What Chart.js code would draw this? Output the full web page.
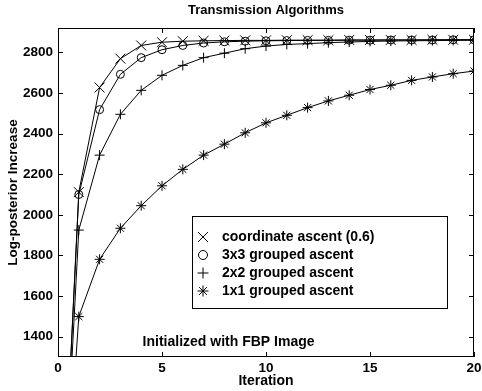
<!DOCTYPE html>
<html>
<head>
<meta charset="utf-8">
<script src="https://cdn.jsdelivr.net/npm/chart.js@4.4.1/dist/chart.umd.min.js"></script>
<style>
  html, body { margin: 0; padding: 0; background: #fff; }
  #wrap { width: 482px; height: 391px; }
</style>
</head>
<body>
<div id="wrap"><canvas id="chartCanvas"></canvas></div>
<script>
// Iteration numbers (x axis)
var iterations = [0, 1, 2, 3, 4, 5, 6, 7, 8, 9, 10, 11, 12, 13, 14, 15, 16, 17, 18, 19, 20];

// Log-posterior increase per algorithm
var coordAscent = [0, 2112, 2627, 2769, 2834, 2850, 2855, 2857, 2858, 2859, 2859, 2860, 2860, 2860, 2861, 2861, 2861, 2861, 2862, 2862, 2862];
var grouped3x3  = [0, 2100, 2518, 2692, 2774, 2813, 2834, 2846, 2852, 2855, 2857, 2858, 2859, 2859, 2860, 2860, 2861, 2861, 2861, 2862, 2862];
var grouped2x2  = [0, 1925, 2294, 2495, 2613, 2687, 2736, 2774, 2796, 2818, 2831, 2839, 2843, 2848, 2851, 2854, 2856, 2857, 2858, 2859, 2860];
var grouped1x1  = [0, 1499, 1781, 1934, 2045, 2143, 2224, 2294, 2348, 2404, 2453, 2490, 2528, 2561, 2589, 2617, 2638, 2662, 2679, 2695, 2708];

var seriesLabels = ['coordinate ascent (0.6)', '3x3 grouped ascent', '2x2 grouped ascent', '1x1 grouped ascent'];
var seriesStyles = ['crossRot', 'circle', 'cross', 'star'];
var seriesRadius = [7, 4, 5, 5];

// Tick labels
var xTicks = [0, 5, 10, 15, 20];
var yTicks = [1400, 1600, 1800, 2000, 2200, 2400, 2600, 2800];

var FONT = "'Liberation Sans', Arial, Helvetica, sans-serif";

function toPoints(values) {
    return iterations.map(function(it, i) { return { x: it, y: values[i] }; });
}

var allSeries = [coordAscent, grouped3x3, grouped2x2, grouped1x1];
var datasets = allSeries.map(function(values, i) {
    return {
        label: seriesLabels[i],
        data: toPoints(values),
        borderColor: '#000',
        borderWidth: 1,
        pointStyle: seriesStyles[i],
        pointRadius: seriesRadius[i],
        pointBorderColor: '#000',
        pointBackgroundColor: 'rgba(0,0,0,0)',
        pointBorderWidth: 1,
        tension: 0,
        fill: false
    };
});

// box around the plot + inward ticks on all four sides (matlab style)
var frameTicks = {
    id: 'frameTicks',
    afterDatasetsDraw: function(chart) {
        var ctx = chart.ctx, a = chart.chartArea;
        var xs = chart.scales.x, ys = chart.scales.y;
        ctx.save();
        ctx.strokeStyle = '#000';
        ctx.lineWidth = 1;
        ctx.strokeRect(a.left + 0.5, a.top + 0.5, a.right - a.left - 1, a.bottom - a.top - 1);
        ctx.beginPath();
        xTicks.forEach(function(v) {
            var px = Math.round(xs.getPixelForValue(v)) + 0.5;
            ctx.moveTo(px, a.bottom); ctx.lineTo(px, a.bottom - 5);
            ctx.moveTo(px, a.top); ctx.lineTo(px, a.top + 5);
        });
        yTicks.forEach(function(v) {
            var py = Math.round(ys.getPixelForValue(v)) + 0.5;
            ctx.moveTo(a.left, py); ctx.lineTo(a.left + 5, py);
            ctx.moveTo(a.right, py); ctx.lineTo(a.right - 5, py);
        });
        ctx.stroke();
        ctx.restore();
    }
};

// legend box drawn inside the plot, plus the annotation text
var innerLegend = {
    id: 'innerLegend',
    afterDraw: function(chart) {
        var ctx = chart.ctx, a = chart.chartArea;
        var xs = chart.scales.x, ys = chart.scales.y;
        var bx = a.left + 134, by = a.top + 188, bw = 255, bh = 92;
        ctx.save();
        ctx.fillStyle = '#fff';
        ctx.fillRect(bx, by, bw, bh);
        ctx.strokeStyle = '#000';
        ctx.lineWidth = 1;
        ctx.strokeRect(bx + 0.5, by + 0.5, bw, bh);
        ctx.font = 'bold 14px ' + FONT;
        ctx.textBaseline = 'middle';
        ctx.textAlign = 'left';
        chart.data.datasets.forEach(function(ds, i) {
            var cy = by + 21 + i * 18;
            ctx.fillStyle = 'rgba(0,0,0,0)';
            ctx.strokeStyle = '#000';
            ctx.lineWidth = 1;
            Chart.helpers.drawPoint(ctx, {
                pointStyle: ds.pointStyle,
                radius: ds.pointStyle === 'circle' ? 4.5 : (ds.pointStyle === 'crossRot' ? 7 : 5.5),
                rotation: 0,
                borderWidth: 1
            }, bx + 11, cy);
            ctx.fillStyle = '#000';
            ctx.fillText(ds.label, bx + 30, cy);
        });
        ctx.textAlign = 'center';
        ctx.fillText('Initialized with FBP Image', xs.getPixelForValue(8.2), ys.getPixelForValue(1375));
        ctx.restore();
    }
};

var config = {
    type: 'line',
    data: { datasets: datasets },
    options: {
        responsive: true,
        maintainAspectRatio: false,
        animation: false,
        layout: { padding: { left: 0, right: 7, top: 0, bottom: 0 } },
        plugins: {
            legend: { display: false },
            tooltip: { enabled: false },
            title: {
                display: true,
                fullSize: false,
                text: 'Transmission Algorithms',
                color: '#000',
                font: { family: FONT, size: 13, weight: 'bold' },
                padding: { top: 3, bottom: 9.4 }
            }
        },
        scales: {
            x: {
                type: 'linear',
                min: 0,
                max: 20,
                grid: { display: false, drawTicks: false },
                border: { display: false },
                afterBuildTicks: function(scale) {
                    scale.ticks = xTicks.map(function(v) { return { value: v }; });
                },
                afterFit: function(scale) {
                    scale.height = 34;
                    scale.paddingLeft = 0;
                    scale.paddingRight = 0;
                },
                ticks: {
                    color: '#000',
                    padding: 3,
                    maxRotation: 0,
                    font: { family: FONT, size: 13.5, weight: 'bold' }
                },
                title: {
                    display: true,
                    text: 'Iteration',
                    color: '#000',
                    font: { family: FONT, size: 14, weight: 'bold' },
                    padding: { top: 0, bottom: 1 }
                }
            },
            y: {
                min: 1300,
                max: 2920,
                grid: { display: false, drawTicks: false },
                border: { display: false },
                afterBuildTicks: function(scale) {
                    scale.ticks = yTicks.map(function(v) { return { value: v }; });
                },
                afterFit: function(scale) { scale.width = 58; },
                ticks: {
                    color: '#000',
                    padding: 5,
                    font: { family: FONT, size: 13.5, weight: 'bold' },
                    callback: function(value) { return String(value); }
                },
                title: {
                    display: true,
                    text: 'Log-posterior Increase',
                    color: '#000',
                    font: { family: FONT, size: 13.5, weight: 'bold' },
                    padding: { top: 5, bottom: 0 }
                }
            }
        }
    },
    plugins: [frameTicks, innerLegend]
};

var chart = new Chart(document.getElementById('chartCanvas'), config);
</script>
</body>
</html>
